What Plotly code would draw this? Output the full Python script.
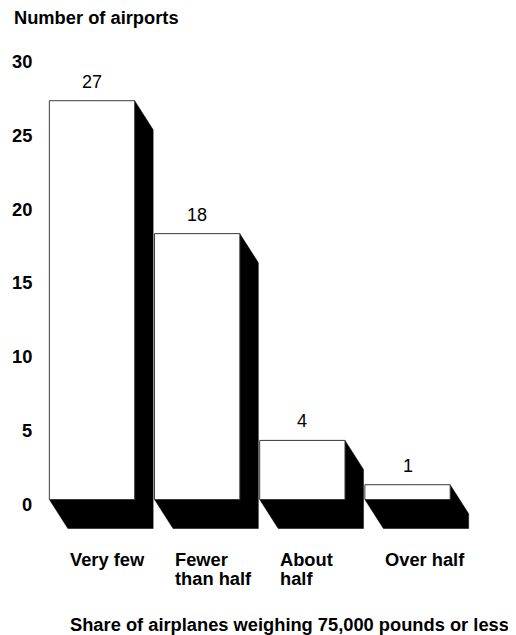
import plotly.graph_objects as go

# ---- data ----
categories = ["Very few", "Fewer than half", "About half", "Over half"]
category_lines = [["Very few"], ["Fewer", "than half"], ["About", "half"], ["Over half"]]
airports = [27, 18, 4, 1]
y_ticks = [0, 5, 10, 15, 20, 25, 30]
y_title = "Number of airports"
x_title = "Share of airplanes weighing 75,000 pounds or less"

# ---- geometry (figure pixel mapping with zero margins) ----
W, H = 516, 635
OFF = 8                                # page body margin offset
X0_PX, PITCH_PX = 92.0 - OFF, 105.17   # pixel of category 0 centre, px per category
Y0_PX, UNIT_PX = 499.5 - OFF, 14.77    # pixel of value 0, px per unit
x_range = [-X0_PX / PITCH_PX, (W - X0_PX) / PITCH_PX]
y_range = [(Y0_PX - H) / UNIT_PX, Y0_PX / UNIT_PX]

BAR_W = 85.3 / PITCH_PX
DX = 18.5 / PITCH_PX
DY = 29.0 / UNIT_PX
FONT = "Liberation Sans, Arial, Helvetica, sans-serif"
FS = 18.3


def py(px):
    return 1 - (px - OFF) / H


def pxx(px):
    return (px - OFF) / W


xs = list(range(len(categories)))

fig = go.Figure()
fig.add_trace(go.Bar(
    x=xs, y=airports, width=BAR_W,
    marker=dict(color="white", line=dict(color="#3a3a3a", width=1)),
    hoverinfo="skip", showlegend=False,
))

shapes = []
hw = BAR_W / 2
for x, v in zip(xs, airports):
    path = (f"M {x+hw},{v} L {x+hw+DX},{v-DY} L {x+hw+DX},{-DY} "
            f"L {x-hw+DX},{-DY} L {x-hw},0 L {x+hw},0 Z")
    shapes.append(dict(type="path", path=path, xref="x", yref="y",
                       fillcolor="black", line=dict(color="black", width=0.5),
                       layer="below"))

ann = []
# value labels
for x, v in zip(xs, airports):
    ann.append(dict(x=x, y=v, xref="x", yref="y", text=str(v), showarrow=False,
                    xanchor="center", yanchor="middle", yshift=19,
                    font=dict(family=FONT, size=18, color="black")))
# y tick labels
for t in y_ticks:
    ann.append(dict(x=pxx(33.5), y=t, xref="paper", yref="y", text=f"<b>{t}</b>",
                    showarrow=False, xanchor="right", yanchor="middle", yshift=-5,
                    font=dict(family=FONT, size=FS, color="black")))
# category labels (left aligned at shadow offset)
for x, lines in zip(xs, category_lines):
    for k, line in enumerate(lines):
        ypx = 559.5 + 19 * k
        ann.append(dict(x=x - hw + DX, y=py(ypx), xref="x", yref="paper",
                        text=f"<b>{line}</b>", showarrow=False,
                        xanchor="left", yanchor="middle",
                        font=dict(family=FONT, size=FS, color="black")))
# titles
ann.append(dict(x=pxx(12), y=py(17), xref="paper", yref="paper",
                text=f"<b>{y_title}</b>", showarrow=False,
                xanchor="left", yanchor="middle",
                font=dict(family=FONT, size=FS, color="black")))
ann.append(dict(x=pxx(67.5), y=py(624), xref="paper", yref="paper",
                text=f"<b>{x_title}</b>", showarrow=False,
                xanchor="left", yanchor="middle",
                font=dict(family=FONT, size=FS, color="black")))

fig.update_layout(
    width=W, height=H,
    margin=dict(l=0, r=0, t=0, b=0),
    paper_bgcolor="white", plot_bgcolor="white",
    xaxis=dict(range=x_range, visible=False, fixedrange=True),
    yaxis=dict(range=y_range, visible=False, fixedrange=True),
    shapes=shapes, annotations=ann, showlegend=False,
)

fig.write_html("out.html")
